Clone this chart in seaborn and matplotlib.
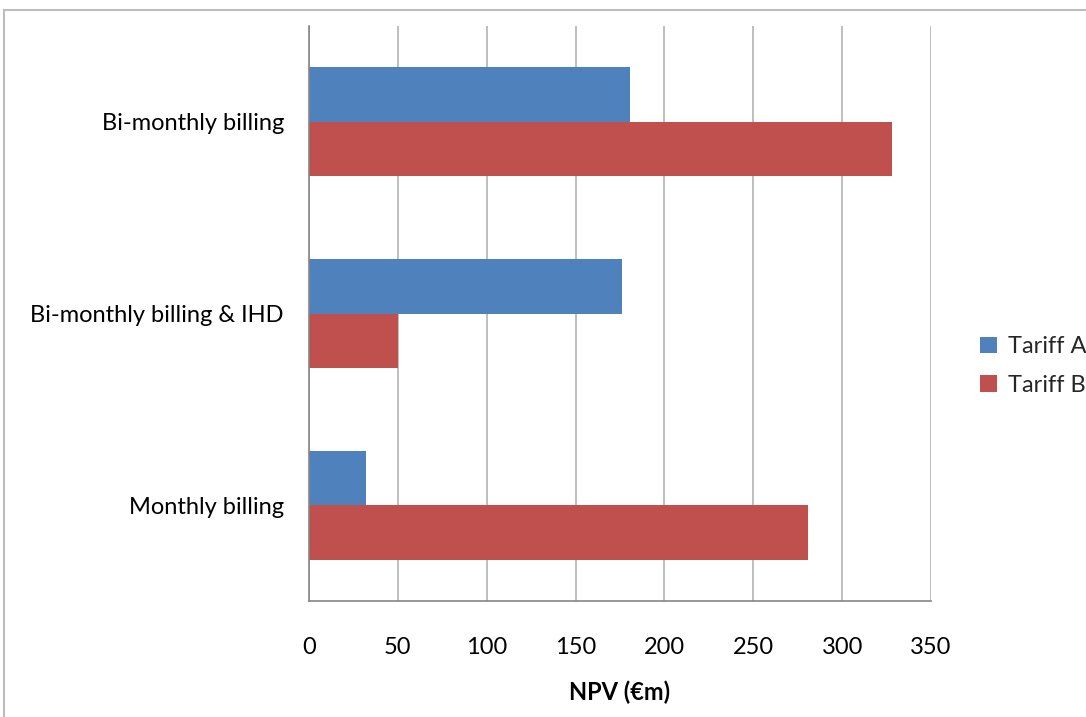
import matplotlib
matplotlib.use("Agg")
import matplotlib.pyplot as plt
import seaborn as sns
import pandas as pd
from matplotlib.patches import Rectangle, Patch

categories = ["Bi-monthly billing", "Bi-monthly billing & IHD", "Monthly billing"]
series_names = ["Tariff A", "Tariff B"]
tariff_a = [180.5, 176, 32]
tariff_b = [328, 50, 281]
x_ticks = [0, 50, 100, 150, 200, 250, 300, 350]
colors = ["#4F81BD", "#C0504D"]

df = pd.DataFrame({
    "Scenario": categories * 2,
    "Series": [series_names[0]] * 3 + [series_names[1]] * 3,
    "NPV": tariff_a + tariff_b,
})

sns.set_theme(style="white")
plt.rcParams["font.family"] = ["Lato", "DejaVu Sans"]

FS = 17

fig = plt.figure(figsize=(10.86, 7.17), dpi=100)
ax = fig.add_axes([309 / 1086, 1 - 601 / 717, 622 / 1086, 575 / 717])

sns.barplot(data=df, y="Scenario", x="NPV", hue="Series", order=categories,
            hue_order=series_names, palette=colors, orient="h", width=0.57,
            saturation=1, ax=ax, legend=False, linewidth=0)

ax.set_xlim(0, 350)
ax.set_ylim(2.5, -0.5)
ax.set_xticks(x_ticks)
ax.set_xticklabels([str(t) for t in x_ticks], fontsize=FS, color="#000000")
ax.set_yticks(range(len(categories)))
ax.set_yticklabels(categories, fontsize=FS, color="#000000")
ax.set_yticks([-0.5, 0.5, 1.5, 2.5], minor=True)
ax.tick_params(axis="y", which="major", length=0, pad=18)
ax.tick_params(axis="y", which="minor", length=6, width=1, color="#868686", direction="out")
ax.tick_params(axis="x", which="major", length=6, width=1, color="#868686", direction="out", pad=20)
ax.xaxis.grid(True, color="#B3B3B3", linewidth=1.2)
ax.set_axisbelow(True)
for s in ["top", "right"]:
    ax.spines[s].set_visible(False)
for s in ["left", "bottom"]:
    ax.spines[s].set_color("#868686")
    ax.spines[s].set_linewidth(1.2)
ax.set_ylabel("")
ax.set_xlabel("NPV (€m)", fontsize=FS, fontweight="bold", labelpad=16, color="#000000")

handles = [Patch(facecolor=c, edgecolor="none") for c in colors]
fig.legend(handles, series_names, loc="center left", bbox_to_anchor=(978 / 1086, 1 - 366 / 717),
           frameon=False, fontsize=FS, handlelength=0.7, handleheight=0.7,
           handletextpad=0.45, labelspacing=0.75, borderaxespad=0, borderpad=0.1)

fig.patches.append(Rectangle((4 / 1086, -0.1), 1.2, 1 - 10 / 717 + 0.1, transform=fig.transFigure,
                             fill=False, edgecolor="#BDBDBD", linewidth=1.5, zorder=-1))

fig.savefig("out.png", dpi=100)
